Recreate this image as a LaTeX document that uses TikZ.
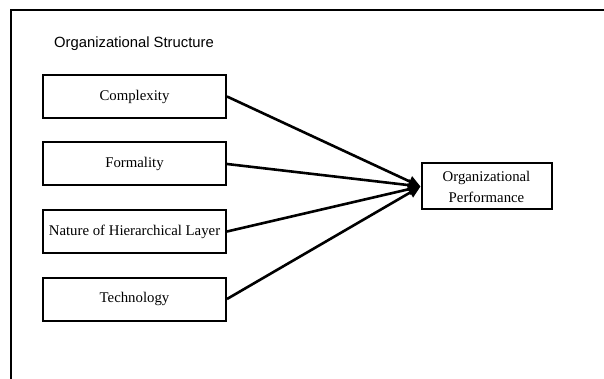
\documentclass[tikz,border=0pt]{standalone}
\usepackage{fontspec}
\setmainfont{Liberation Serif}
\setsansfont{Liberation Sans}
\usetikzlibrary{arrows.meta,positioning}

\begin{document}
\begin{tikzpicture}[x=1pt, y=-1pt,
  box/.style={draw, line width=2pt, minimum width=183pt, minimum height=43pt, inner sep=2pt, font=\fontsize{14.8}{21}\selectfont},
  link/.style={->, line width=2.6pt},
  >={Triangle[length=12pt,width=11pt]}
]
\useasboundingbox (0,0) rectangle (604,379);
\draw[line width=1.8pt] (11,379) -- (11,10) -- (604,10);
\node[anchor=west, inner sep=0pt, font=\sffamily\fontsize{14.8}{17}\selectfont] (title) at (54,44) {Organizational Structure};
\node[box] (cplx) at (134.5,96.5) {Complexity};
\node[box, below=22.5pt of cplx] (form) {Formality};
\node[box, below=22.5pt of form] (layer) {Nature of Hierarchical Layer};
\node[box, below=22.5pt of layer] (tech) {Technology};
\node[box, minimum width=130pt, minimum height=46pt, align=center] (perf) at (486.5,186.5) {Organizational\\Performance};
\draw[link] (cplx.east) -- (perf.west);
\draw[link] (form.east) -- (perf.west);
\draw[link] (layer.east) -- (perf.west);
\draw[link] (tech.east) -- (perf.west);
\end{tikzpicture}
\end{document}
